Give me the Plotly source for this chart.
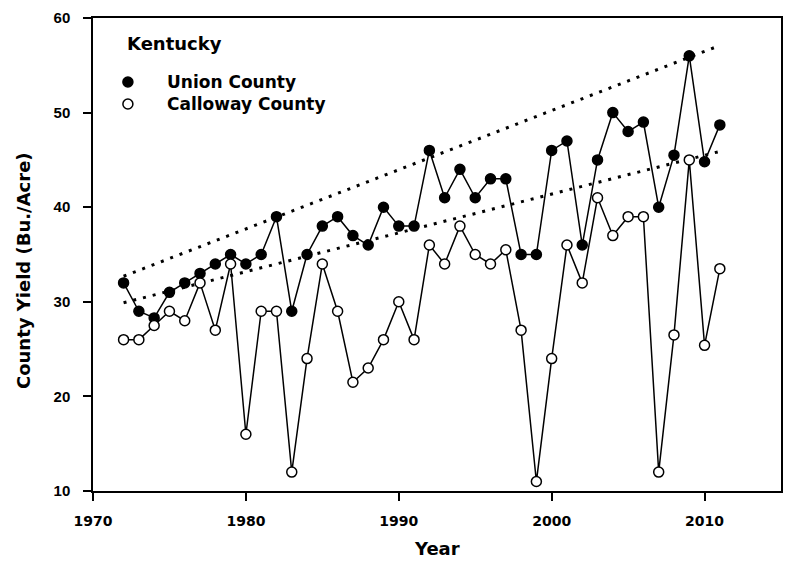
import plotly.graph_objects as go

years = list(range(1972, 2012))
union = [32, 29, 28.3, 31, 32, 33, 34, 35, 34, 35,
         39, 29, 35, 38, 39, 37, 36, 40, 38, 38,
         46, 41, 44, 41, 43, 43, 35, 35, 46, 47,
         36, 45, 50, 48, 49, 40, 45.5, 56, 44.8, 48.7]
calloway = [26, 26, 27.5, 29, 28, 32, 27, 34, 16, 29,
            29, 12, 24, 34, 29, 21.5, 23, 26, 30, 26,
            36, 34, 38, 35, 34, 35.5, 27, 11, 24, 36,
            32, 41, 37, 39, 39, 12, 26.5, 45, 25.4, 33.5]
trend_years = [1972, 2011]
union_trend = [32.7, 57.1]
calloway_trend = [29.9, 45.9]

x_ticks = [1970, 1980, 1990, 2000, 2010]
y_ticks = [10, 20, 30, 40, 50, 60]

BOLD_W = "DejaVu Sans"
fig = go.Figure()

for ty in (union_trend, calloway_trend):
    fig.add_trace(go.Scatter(x=trend_years, y=ty, mode="lines",
                             line=dict(color="black", width=3, dash="3px,7px"),
                             showlegend=False, hoverinfo="skip"))

fig.add_trace(go.Scatter(x=years, y=union, mode="lines+markers", name="Union County",
                         line=dict(color="black", width=1.5),
                         marker=dict(symbol="circle", size=10, color="black",
                                     line=dict(color="black", width=1.5)),
                         showlegend=False))
fig.add_trace(go.Scatter(x=years, y=calloway, mode="lines+markers", name="Calloway County",
                         line=dict(color="black", width=1.5),
                         marker=dict(symbol="circle", size=10, color="white",
                                     line=dict(color="black", width=1.5)),
                         showlegend=False))

axis_common = dict(showgrid=False, zeroline=False, showline=True, linecolor="black",
                   linewidth=1.5, mirror=True, ticks="outside", ticklen=8,
                   tickwidth=1.5, tickcolor="black")

fig.update_xaxes(range=[1970, 2015], tickvals=x_ticks,
                 tickfont=dict(family=BOLD_W, size=14, color="black", weight="bold"),
                 ticklabelstandoff=8, **axis_common)
fig.update_yaxes(range=[10, 60], tickvals=y_ticks,
                 tickfont=dict(family="Liberation Sans", size=15, color="black", weight="bold"),
                 ticklabelstandoff=10, **axis_common)

annots = [
    dict(text="County Yield (Bu./Acre)", x=0, y=0.465, xref="paper", yref="paper",
         xanchor="center", yanchor="middle", xshift=-70, textangle=-90, showarrow=False,
         font=dict(family=BOLD_W, size=18, color="black", weight="bold")),
    dict(text="Year", x=0.5, y=0, xref="paper", yref="paper", xanchor="center",
         yanchor="middle", yshift=-57, showarrow=False,
         font=dict(family=BOLD_W, size=18, color="black", weight="bold")),
    dict(text="Kentucky", x=(125 - 93) / 690, y=(491 - 44) / 473, xref="paper", yref="paper",
         xanchor="left", yanchor="middle", showarrow=False,
         font=dict(family=BOLD_W, size=18, color="black", weight="bold")),
    dict(text="Union County", x=(165 - 93) / 690, y=(491 - 82) / 473, xref="paper", yref="paper",
         xanchor="left", yanchor="middle", showarrow=False,
         font=dict(family=BOLD_W, size=17, color="black", weight="bold")),
    dict(text="Calloway County", x=(165 - 93) / 690, y=(491 - 104) / 473, xref="paper", yref="paper",
         xanchor="left", yanchor="middle", showarrow=False,
         font=dict(family=BOLD_W, size=17, color="black", weight="bold")),
]

shapes = []
for ypx, fill in ((82, "black"), (104, "white")):
    shapes.append(dict(type="circle", xref="paper", yref="paper", xsizemode="pixel",
                       ysizemode="pixel", xanchor=(128 - 93) / 690, yanchor=(491 - ypx) / 473,
                       x0=-5, x1=5, y0=-5, y1=5, fillcolor=fill,
                       line=dict(color="black", width=1.5)))

fig.update_layout(width=785, height=572, margin=dict(l=93, r=2, t=18, b=81),
                  plot_bgcolor="white", paper_bgcolor="white",
                  annotations=annots, shapes=shapes, showlegend=False)

fig.write_html("out.html", config={"displayModeBar": False},
               post_script="document.body.style.margin='0';document.body.style.overflow='hidden';")
